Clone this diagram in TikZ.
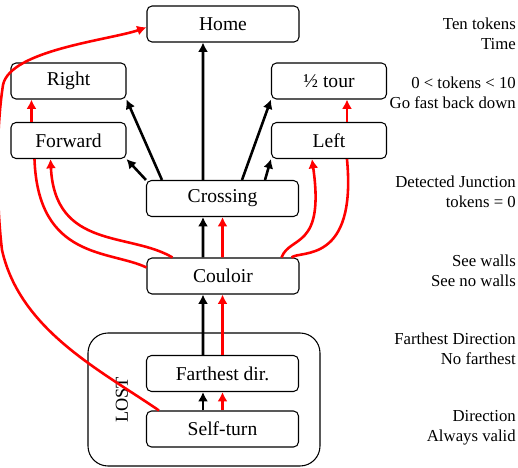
\documentclass[tikz,border=0pt]{standalone}
\usepackage{fontspec}
\setmainfont{Liberation Serif}
\usepackage{tikz}
\usetikzlibrary{arrows.meta}

\begin{document}
\begin{tikzpicture}[x=0.3mm,y=-0.3mm,font=\fontsize{14.3}{17}\selectfont]
            \tikzset{state/.style = {shape=rectangle,draw,rounded corners=1.5mm,line width=0.9pt,minimum height=10.8mm,font=\fontsize{16.7}{20}\selectfont}}
            \tikzset{wide/.style = {state,minimum width=45.6mm}}
            \tikzset{narrow/.style = {state,minimum width=34.5mm}}
            \tikzset{cond/.style = {anchor=east,align=right,inner sep=0pt}}
            \tikzset{edge/.style = {-{Latex[length=2.8mm,width=3mm]},line width=2.2pt}}
            \tikzset{alt/.style = {edge,red}}
            \useasboundingbox (0,0) rectangle (518,468);

            \node[draw,line width=0.9pt,rounded corners=6mm,minimum width=69.6mm,minimum height=39.9mm] (lost) at (204,399.5) {};
            \node[rotate=90,font=\fontsize{15.6}{18}\selectfont] (lostlabel) at (122,400) {LOST};

            \node[wide] (home) at (223,24) {Home};
            \node[narrow] (right) at (68.5,81) {Right};
            \node[narrow] (fwd) at (68.5,140.5) {Forward};
            \node[narrow] (half) at (329,81) {½ tour};
            \node[narrow] (left) at (329,140.5) {Left};
            \node[wide] (cross) at (222.5,198.5) {Crossing};
            \node[wide] (couloir) at (223,276) {Couloir};
            \node[wide] (far) at (222.5,373.5) {Farthest dir.};
            \node[wide] (self) at (222.5,429) {Self-turn};

            \node[cond] (condhome) at (516,33.5) {Ten tokens\\Time};
            \node[cond] (condturn) at (516,92.5) {0 < tokens < 10\\Go fast back down};
            \node[cond] (condcross) at (516,192) {Detected Junction\\tokens = 0};
            \node[cond] (condwalls) at (516,270.5) {See walls\\See no walls};
            \node[cond] (condfar) at (516,349) {Farthest Direction\\No farthest};
            \node[cond] (conddir) at (516,427.5) {Direction\\Always valid};

            \draw[edge] ([xshift=-5.85mm]self.north) to ([xshift=-5.85mm]far.south);
            \draw[alt] (self.north) to (far.south);
            \draw[edge] ([xshift=-5.85mm]far.north) to ([xshift=-6mm]couloir.south);
            \draw[alt] (far.north) to ([xshift=-0.15mm]couloir.south);
            \draw[edge] ([xshift=-6mm]couloir.north) to ([xshift=-5.85mm]cross.south);
            \draw[alt] ([xshift=-0.15mm]couloir.north) to (cross.south);

            \draw[edge] ([xshift=-5.85mm]cross.north) to ([xshift=-6mm]home.south);
            \draw[edge] ([xshift=4.8mm]cross.north west) to (right.south east);
            \draw[edge] (cross.north west) to (fwd.south east);
            \draw[edge] ([xshift=5.85mm]cross.north) to (half.south west);
            \draw[edge] ([xshift=12.75mm]cross.north) to (left.south west);

            \draw[alt] ([xshift=6.3mm]fwd.north west) to ([xshift=6.3mm]right.south west);
            \draw[alt] ([xshift=22.8mm]left.north west) to ([xshift=22.8mm]half.south west);

            \draw[alt] ([xshift=7.8mm]couloir.north west) .. controls (130,232) and (55,250) .. ([xshift=12mm]fwd.south west);
            \draw[alt,-] ([yshift=-3mm]couloir.north west) .. controls (110,250) and (38,260) .. ([xshift=7.2mm]fwd.south west);
            \draw[alt] ([xshift=-5.4mm]couloir.north east) .. controls (290,235) and (325,250) .. ([xshift=12.3mm]left.south west);
            \draw[alt,-] ([xshift=-2.4mm]couloir.north east) .. controls (300,250) and (357,265) .. ([xshift=22.8mm]left.south west);

            \draw[alt] ([xshift=3.9mm]self.north west) .. controls (100,370) and (20,330) .. (2,250) .. controls (-4,200) and (-4,130) .. (3,85) .. controls (10,50) and (110,40) .. ([yshift=-1mm]home.west);
        \end{tikzpicture}
\end{document}
